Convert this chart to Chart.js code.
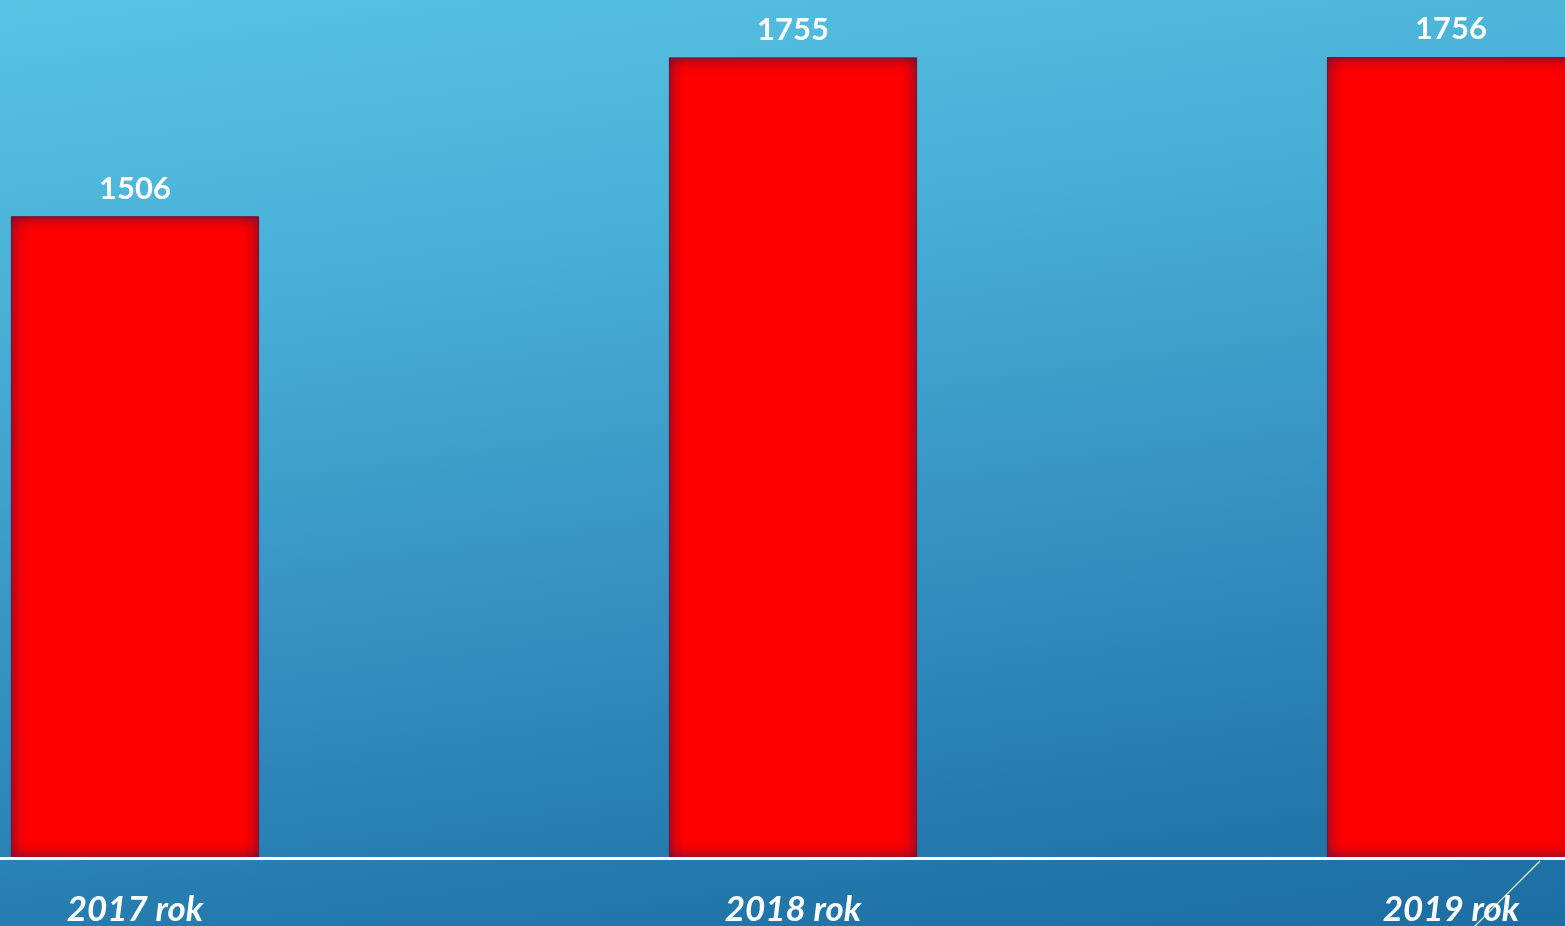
<!DOCTYPE html>
<html>
<head>
<meta charset="utf-8">
<script src="https://cdn.jsdelivr.net/npm/chart.js@4"></script>
<style>
  html, body { margin: 0; padding: 0; overflow: hidden; }
  body {
    width: 1565px; height: 926px; position: relative;
    background: linear-gradient(172deg, #58c3e3 0%, #47aed6 30%, #3590c0 60%, #2276aa 88%, #1d6ea2 100%);
  }
  #chart { position: absolute; left: -194px; top: 0; }
</style>
</head>
<body>
<canvas id="chart" width="1974" height="926"></canvas>
<script>
// chart data
const years = ['2017 rok', '2018 rok', '2019 rok'];
const counts = [1506, 1755, 1756];

const FONT = "'Lato', 'DejaVu Sans', sans-serif";

// dark inner glow on the red bars
const innerShadow = {
  id: 'innerShadow',
  afterDatasetsDraw(chart) {
    const ctx = chart.ctx;
    const bottom = chart.chartArea.bottom;
    chart.getDatasetMeta(0).data.forEach(bar => {
      const { x, y, base, width } = bar.getProps(['x', 'y', 'base', 'width'], true);
      const l = x - width / 2, t = y, h = Math.min(base, bottom) - y;
      ctx.save();
      ctx.beginPath();
      ctx.rect(l, t, width, h);
      ctx.clip();
      ctx.shadowColor = 'rgba(70,20,70,0.95)';
      ctx.shadowBlur = 16;
      ctx.fillStyle = '#000';
      ctx.beginPath();
      ctx.rect(l - 60, t - 60, width + 120, h + 120);
      ctx.rect(l, t, width, h);
      ctx.fill('evenodd');
      ctx.strokeStyle = 'rgba(110,25,60,0.8)';
      ctx.lineWidth = 2;
      ctx.shadowBlur = 0;
      ctx.strokeRect(l, t, width, h);
      ctx.restore();
    });
    // white base line over the bars
    ctx.save();
    ctx.strokeStyle = '#ffffff';
    ctx.lineWidth = 3;
    ctx.beginPath();
    ctx.moveTo(chart.chartArea.left, bottom + 0.5);
    ctx.lineTo(chart.chartArea.right, bottom + 0.5);
    ctx.stroke();
    ctx.restore();
  }
};

// value labels above bars + slide decoration
const valueLabels = {
  id: 'valueLabels',
  afterDraw(chart) {
    const ctx = chart.ctx;
    ctx.save();
    ctx.fillStyle = '#ffffff';
    ctx.font = 'bold 31px ' + FONT;
    ctx.textAlign = 'center';
    ctx.textBaseline = 'alphabetic';
    chart.getDatasetMeta(0).data.forEach((bar, i) => {
      ctx.fillText(String(counts[i]), bar.x, bar.y - 18);
    });
    // thin diagonal line at the bottom right of the slide
    ctx.strokeStyle = 'rgba(255,255,255,0.9)';
    ctx.lineWidth = 1.2;
    ctx.beginPath();
    ctx.moveTo(194 + 1540, 861);
    ctx.lineTo(194 + 1474, 927);
    ctx.stroke();
    ctx.restore();
  }
};

new Chart(document.getElementById('chart'), {
  type: 'bar',
  data: {
    labels: years,
    datasets: [{
      data: counts,
      backgroundColor: '#ff0000',
      borderWidth: 0,
      categoryPercentage: 1,
      barPercentage: 0.377
    }]
  },
  options: {
    responsive: false,
    animation: false,
    layout: { padding: { top: 10, left: 0, right: 0, bottom: 0 } },
    plugins: { legend: { display: false }, tooltip: { enabled: false } },
    scales: {
      y: {
        display: false,
        min: 500,
        max: 1830
      },
      x: {
        grid: { display: false, drawTicks: false },
        border: { display: false },
        ticks: {
          color: '#ffffff',
          font: { family: FONT, size: 35, weight: 'bold', style: 'italic' },
          padding: 31,
          maxRotation: 0
        },
        afterFit(scale) { scale.height = 68; }
      }
    }
  },
  plugins: [innerShadow, valueLabels]
});
</script>
</body>
</html>
